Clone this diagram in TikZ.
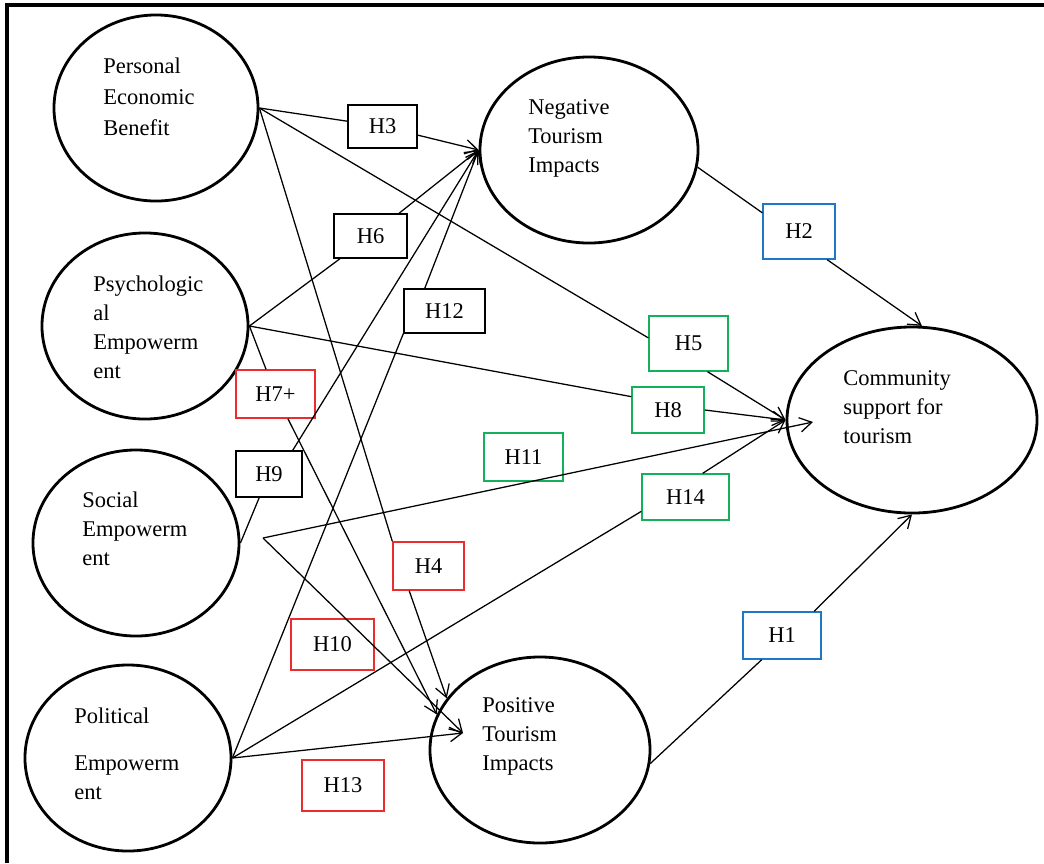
\documentclass[tikz,border=0pt]{standalone}
\usepackage{fontspec}
\setmainfont{Liberation Serif}
\usepackage{xcolor}
\usepackage{tikz}
\usetikzlibrary{shapes.geometric, arrows.meta, positioning}

\definecolor{hred}{RGB}{235,45,45}
\definecolor{hgreen}{RGB}{20,176,90}
\definecolor{hblue}{RGB}{30,120,200}

\begin{document}
\begin{tikzpicture}[
  x=0.025cm, y=-0.025cm,
  latent/.style={ellipse, draw, line width=2pt, inner sep=0pt, minimum height=4.65cm},
  lbl/.style={anchor=west, align=left, inner sep=0pt, font=\fontsize{16}{20.6}\selectfont},
  hyp/.style={rectangle, draw, line width=1pt, inner sep=0pt, font=\fontsize{16}{20.6}\selectfont},
  sz/.style 2 args={minimum width=#1cm, minimum height=#2cm},
  link/.style={line width=0.9pt},
  arrow/.style={link, -{Straight Barb[length=3mm, width=3.6mm]}}
]
  \useasboundingbox (0,0) rectangle (1044,863);
  \draw[line width=2.2pt] (7,863) -- (7,5) -- (1044,5);

  \node[latent, minimum width=5.1cm]  (peb) at (156,108) {};
  \node[latent, minimum width=5.15cm] (psy) at (145,326) {};
  \node[latent, minimum width=5.15cm] (soc) at (136,543) {};
  \node[latent, minimum width=5.15cm] (pol) at (128,758) {};
  \node[latent, minimum width=5.45cm] (neg) at (589,150) {};
  \node[latent, minimum width=6.25cm] (com) at (912,420) {};
  \node[latent, minimum width=5.5cm]  (pos) at (540,750) {};

  \node[lbl] (peb-t) at (103,97)    {Personal\\[1.4pt]Economic\\[1.4pt]Benefit};
  \node[lbl] (psy-t) at (93,327.5)  {Psychologic\\al\\Empowerm\\ent};
  \node[lbl] (soc-t) at (82,529)    {Social\\Empowerm\\ent};
  \node[lbl] (pol-t) at (74,753.5)  {Political\\[13pt]Empowerm\\ent};
  \node[lbl] (neg-t) at (528,138.5) {Negative\\Tourism\\Impacts};
  \node[lbl] (com-t) at (843,407.5) {Community\\support for\\tourism};
  \node[lbl] (pos-t) at (482,736.5) {Positive\\Tourism\\Impacts};

  \node[hyp, sz={1.725}{1.075}] (h3)  at (382.5,126.5) {H3};
  \node[hyp, sz={1.825}{1.1}]   (h6)  at (370.5,236)   {H6};
  \node[hyp, sz={2.025}{1.1}]   (h12) at (444.5,311)   {H12};
  \node[hyp, sz={1.975}{1.2}, draw=hred] (h7) at (275.5,394) {H7+};
  \node[hyp, sz={1.65}{1.15}]   (h9)  at (269,474)     {H9};
  \node[hyp, sz={1.775}{1.2}, draw=hred]    (h4)  at (428.5,566)   {H4};
  \node[hyp, sz={2.075}{1.275}, draw=hred]  (h10) at (332.5,644.5) {H10};
  \node[hyp, sz={2.05}{1.275}, draw=hred]   (h13) at (343,785.5)   {H13};
  \node[hyp, sz={1.975}{1.2}, draw=hgreen]  (h11) at (523.5,457)   {H11};
  \node[hyp, sz={1.975}{1.375}, draw=hgreen] (h5) at (688.5,343.5) {H5};
  \node[hyp, sz={1.8}{1.15}, draw=hgreen]   (h8)  at (668,410)     {H8};
  \node[hyp, sz={2.175}{1.15}, draw=hgreen] (h14) at (685.5,497)   {H14};
  \node[hyp, sz={1.8}{1.375}, draw=hblue]   (h2)  at (799,231.5)   {H2};
  \node[hyp, sz={1.95}{1.175}, draw=hblue]  (h1)  at (782,635.5)   {H1};

  \coordinate (soc-o)  at (263,538);
  \coordinate (pos-in) at (463,733);
  \coordinate (com-in) at (813,422);

  \draw[link]  (peb.east) -- (h3);
  \draw[arrow] (h3) -- (neg.west);
  \draw[link]  (peb.east) -- (h4.north west);
  \draw[arrow] (h4.-128) -- (pos.151);
  \draw[link]  (peb.east) -- (h5.172);
  \draw[arrow] (h5.-56) -- (com.west);

  \draw[link]  (psy.east) -- (h6);
  \draw[arrow] (h6) -- (neg.west);
  \draw[link]  (psy.east) -- (h7);
  \draw[arrow] (h7) -- (pos.161);
  \draw[link]  (psy.east) -- (h8.160);
  \draw[arrow] (h8.east) -- (com.west);

  \draw[link]  (soc.east) -- (h9);
  \draw[arrow] (h9.45) -- (neg.west);
  \draw[arrow] (soc-o) -- (pos-in);
  \draw[arrow] (soc-o) -- (com-in);

  \draw[link]  (pol.east) -- (h12.south west);
  \draw[arrow] (h12.131) -- (neg.west);
  \draw[arrow] (pol.east) -- (pos-in);
  \draw[link]  (pol.east) -- (h14.-162);
  \draw[arrow] (h14.54) -- (com.west);

  \draw[link]  (neg.-9) -- (h2.153);
  \draw[arrow] (h2.-45) -- (com.84);
  \draw[link]  (pos.-7) -- (h1.-130);
  \draw[arrow] (h1.37) -- (com.south);
\end{tikzpicture}
\end{document}
